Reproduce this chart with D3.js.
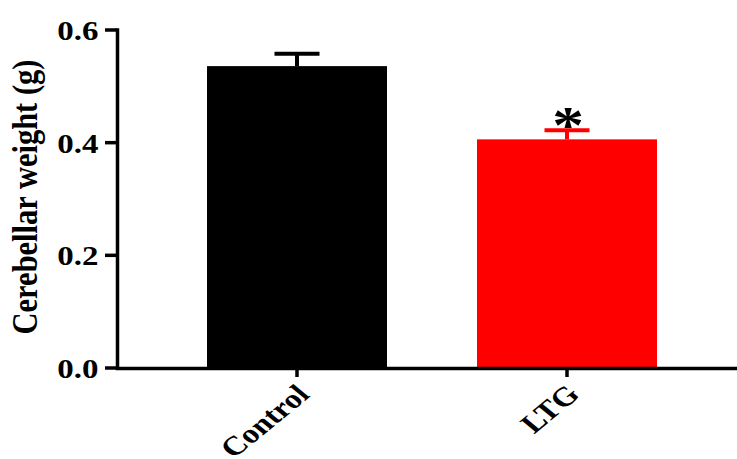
<!DOCTYPE html>
<html><head><meta charset="utf-8">
<script src="https://cdn.jsdelivr.net/npm/d3@7"></script>
<style>body{margin:0;background:#fff} svg{display:block}</style>
</head><body>
<svg id="c" width="737" height="459"></svg>
<script>
const categories = ["Control", "LTG"];
const means = [0.535, 0.405];
const sems = [0.022, 0.016];
const colors = ["#000000", "#FF0000"];
const yTicks = [0.0, 0.2, 0.4, 0.6];
const yLabel = "Cerebellar weight (g)";
const sigMarks = ["", "*"];

const svg = d3.select("#c");
const font = "Liberation Serif";
const SX = 1.22;

const x = d3.scaleBand().domain(categories).range([117, 747]).paddingInner(1/3).paddingOuter(1/3);
const y = d3.scaleLinear().domain([0, 0.6]).range([367.5, 29.5]);
const bw = x.bandwidth();
const cx = d => x(d) + bw / 2;

// bars
svg.selectAll("rect.bar").data(categories).join("rect").attr("class", "bar")
  .attr("x", d => x(d)).attr("width", bw)
  .attr("y", (d, i) => y(means[i])).attr("height", (d, i) => y(0) - y(means[i]))
  .attr("fill", (d, i) => colors[i]);

// error bars
const capW = bw / 4;
const eb = svg.selectAll("g.eb").data(categories).join("g").attr("class", "eb")
  .attr("stroke", (d, i) => colors[i]).attr("stroke-width", 4);
eb.append("line").attr("x1", cx).attr("x2", cx)
  .attr("y1", (d, i) => y(means[i])).attr("y2", (d, i) => y(means[i] + sems[i]));
eb.append("line").attr("x1", d => cx(d) - capW / 2).attr("x2", d => cx(d) + capW / 2)
  .attr("y1", (d, i) => y(means[i] + sems[i])).attr("y2", (d, i) => y(means[i] + sems[i]));

// significance marks
svg.selectAll("text.sig").data(categories).join("text").attr("class", "sig")
  .attr("transform", (d, i) => `translate(${cx(d) + 1},${y(means[i] + sems[i]) + 13}) scale(${SX},1)`)
  .attr("text-anchor", "middle")
  .attr("font-family", font).attr("font-weight", "bold").attr("font-size", 52)
  .attr("fill", "#000")
  .text((d, i) => sigMarks[i]);

// y axis
const yAxis = d3.axisLeft(y).tickValues(yTicks).tickFormat(d3.format(".1f")).tickSize(12).tickSizeOuter(0);
const gy = svg.append("g").attr("transform", "translate(117,0)").call(yAxis);
gy.select(".domain").attr("stroke", "#000").attr("stroke-width", 3.5).attr("stroke-linecap", "square");
gy.selectAll(".tick line").attr("stroke", "#000").attr("stroke-width", 3.5);
gy.selectAll(".tick text")
  .attr("x", -18.5 / 1.22).attr("dy", null).attr("y", 10)
  .attr("transform", "scale(1.22,1)")
  .attr("font-family", font).attr("font-weight", "bold").attr("font-size", 27).attr("fill", "#000");

// x axis
const xAxis = d3.axisBottom(x).tickSize(9).tickSizeOuter(0).tickFormat(() => "");
const gx = svg.append("g").attr("transform", "translate(0,368)").call(xAxis);
gx.select(".domain").attr("stroke", "#000").attr("stroke-width", 3.5).attr("stroke-linecap", "square");
gx.selectAll(".tick line").attr("stroke", "#000").attr("stroke-width", 3.5);
gx.selectAll(".tick text").remove();

// x labels rotated
svg.selectAll("text.xl").data(categories).join("text").attr("class", "xl")
  .attr("transform", d => `translate(${cx(d) + 14},${396}) scale(${SX},1) rotate(-45)`)
  .attr("text-anchor", "end")
  .attr("font-family", font).attr("font-weight", "bold").attr("font-size", 27).attr("fill", "#000")
  .text(d => d);

// y label
svg.append("text")
  .attr("transform", `translate(37,197) scale(1.2,1) rotate(-90)`)
  .attr("text-anchor", "middle")
  .attr("font-family", font).attr("font-weight", "bold").attr("font-size", 30.5).attr("fill", "#000")
  .text(yLabel);
</script>
</body></html>
